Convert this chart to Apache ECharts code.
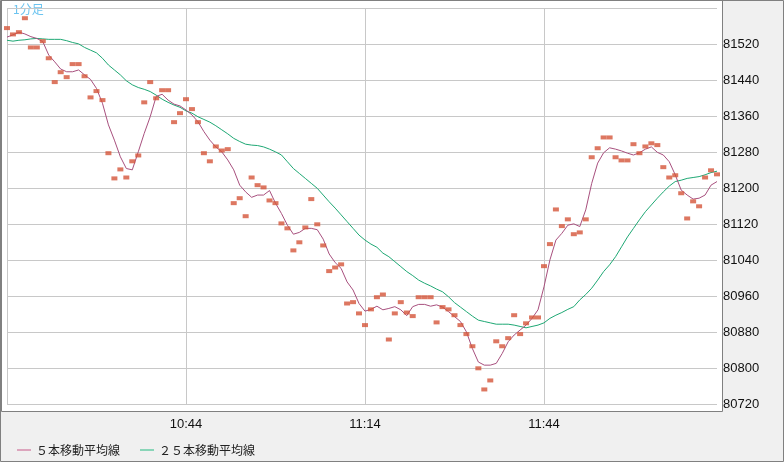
<!DOCTYPE html>
<html><head><meta charset="utf-8">
<script src="https://cdn.jsdelivr.net/npm/echarts@6/dist/echarts.min.js"></script>
<style>html,body{margin:0;padding:0;background:#f0f0f0;}#c{width:784px;height:462px;}</style>
</head><body><div id="c"></div>
<script>
const startTime = [10, 14];
const pointCount = 120;
const tickLabels = ['10:44', '11:14', '11:44'];
const yTicks = { min: 80720, max: 81600, step: 80 };
const prices = [81556,81542,81547,81578,81513,81513,81527,81489,81436,81458,81447,81476,81476,81449,81402,81416,81396,81278,81222,81242,
81224,81260,81273,81391,81436,81400,81418,81418,81347,81367,81398,81376,81347,81278,81260,81293,81284,81287,81167,81178,
81138,81224,81207,81202,81173,81167,81122,81111,81062,81080,81113,81176,81120,81073,81016,81024,81031,80944,80947,80922,
80896,80931,80958,80964,80864,80922,80947,80924,80916,80958,80958,80958,80902,80936,80931,80918,80896,80876,80849,80800,
80753,80773,80860,80849,80867,80918,80876,80900,80913,80913,81027,81076,81153,81116,81131,81098,81102,81131,81269,81289,
81313,81313,81269,81262,81262,81298,81278,81293,81300,81296,81247,81224,81229,81189,81133,81171,81160,81224,81240,81231];
const ma5 = [81536,81541,81547,81543,81537,81533,81526,81496,81481,81465,81459,81459,81463,81452,81442,81422,81389,81341,81307,81270,
81244,81241,81281,81322,81359,81404,81409,81396,81387,81383,81374,81363,81348,81326,81307,81292,81281,81263,81241,81207,
81192,81180,81185,81185,81195,81167,81144,81118,81098,81102,81111,81111,81108,81087,81054,81035,81022,80992,80974,80944,
80927,80931,80938,80930,80933,80937,80930,80917,80937,80942,80942,80938,80941,80936,80926,80915,80904,80881,80844,80814,
80807,80807,80811,80833,80859,80874,80885,80896,80911,80930,80981,81041,81085,81100,81118,81121,81115,81152,81211,81256,
81279,81290,81287,81283,81278,81274,81279,81287,81292,81280,81274,81259,81230,81196,81185,81176,81178,81185,81207,81215];
const ma25 = [81529,81527,81529,81530,81532,81533,81532,81531,81531,81531,81528,81524,81521,81513,81507,81501,81489,81474,81463,81452,
81439,81430,81424,81420,81415,81407,81398,81391,81385,81380,81372,81367,81359,81353,81347,81339,81330,81321,81311,81304,
81298,81296,81295,81292,81287,81281,81274,81259,81244,81233,81222,81211,81200,81185,81170,81156,81141,81126,81111,81096,
81085,81076,81069,81056,81048,81037,81026,81015,81006,80996,80989,80983,80976,80970,80959,80946,80936,80926,80916,80907,
80904,80901,80898,80898,80898,80896,80893,80890,80893,80896,80901,80911,80918,80924,80931,80937,80952,80964,80978,80996,
81015,81030,81048,81070,81092,81111,81130,81148,81163,81178,81192,81205,81215,81218,81222,81224,81226,81230,81235,81238];

const cats = [];
for (let i = 0; i < pointCount; i++) {
  const m = startTime[0] * 60 + startTime[1] + i;
  cats.push(Math.floor(m / 60) + ':' + String(m % 60).padStart(2, '0'));
}
const chart = echarts.init(document.getElementById('c'));
const font = '"Liberation Sans", sans-serif';
chart.setOption({
  animation: false,
  backgroundColor: '#f0f0f0',
  graphic: [
    { type: 'rect', z: -10, shape: { x: 1.5, y: 0.5, width: 721, height: 411 }, style: { fill: '#fff', stroke: '#808080', lineWidth: 1 } },
    { type: 'rect', z: -10, shape: { x: 0.5, y: 0.5, width: 783, height: 461 }, style: { fill: 'none', stroke: '#808080', lineWidth: 1 } },
    { type: 'text', left: 13, top: 3, style: { text: '1分足', fill: '#6cc4f0', font: '12px "Noto Sans CJK JP"' } }
  ],
  grid: { left: 7, right: 67, top: 8.3, bottom: 57.7 },
  legend: {
    left: 12, top: 439, itemWidth: 14, itemHeight: 1, itemGap: 20, icon: 'rect',
    textStyle: { fontFamily: '"Noto Sans CJK JP"', fontSize: 12, color: '#222' },
    data: ['５本移動平均線', '２５本移動平均線']
  },
  xAxis: {
    type: 'category', data: cats, boundaryGap: false,
    axisLine: { show: false }, axisTick: { show: false },
    axisLabel: { interval: (i, v) => tickLabels.includes(v), fontFamily: font, fontSize: 13, color: '#111', margin: 14 },
    splitLine: { show: true, interval: (i) => i % 30 === 0, lineStyle: { color: '#c8c8c8' } }
  },
  yAxis: {
    type: 'value', position: 'right', min: yTicks.min, max: yTicks.max, interval: yTicks.step,
    axisLine: { show: false }, axisTick: { show: false },
    axisLabel: { showMaxLabel: false, formatter: v => String(v), fontFamily: font, fontSize: 13, color: '#111', margin: 6 },
    splitLine: { lineStyle: { color: '#c8c8c8' } }
  },
  series: [
    { name: '５本移動平均線', type: 'line', data: ma5, symbol: 'none', lineStyle: { width: 1, color: '#a8507e' }, itemStyle: { color: '#c85a8a' }, z: 3 },
    { name: '２５本移動平均線', type: 'line', data: ma25, symbol: 'none', lineStyle: { width: 1, color: '#1ea874' }, itemStyle: { color: '#22bb80' }, z: 2 },
    { name: 'price', type: 'scatter', data: prices, symbol: 'rect', symbolSize: [6, 4], itemStyle: { color: '#d5553a' }, z: 4 }
  ]
});
</script></body></html>
